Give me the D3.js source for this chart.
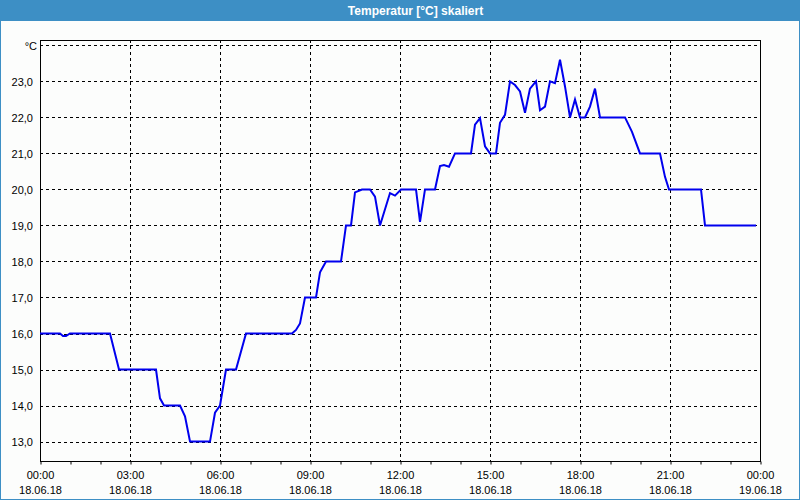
<!DOCTYPE html>
<html>
<head>
<meta charset="utf-8">
<script src="https://cdn.jsdelivr.net/npm/d3@7"></script>
<style>
  html, body { margin: 0; padding: 0; background: #fcfdfc; }
  svg { display: block; }
  text { font-family: "Liberation Sans", Arial, sans-serif; }
</style>
</head>
<body>
<svg id="chart" width="800" height="500"></svg>
<script>
// ---- data ----
const title = "Temperatur [°C] skaliert";
const times = ["00:00","00:40","00:46","00:52","01:00","02:20","02:38","03:52","04:00","04:08",
  "04:40","04:50","05:00","05:40","05:50","06:00","06:12","06:32","06:52","08:24",
  "08:32","08:40","08:50","09:12","09:20","09:32","10:02","10:12","10:22","10:30",
  "10:44","11:00","11:10","11:20","11:40","11:50","12:02","12:32","12:40","12:50",
  "13:10","13:20","13:28","13:38","13:50","14:22","14:30","14:40","14:50","15:00",
  "15:12","15:20","15:30","15:40","15:50","16:00","16:10","16:20","16:32","16:40",
  "16:50","17:00","17:10","17:20","17:30","17:40","17:50","18:00","18:10","18:20",
  "18:30","18:40","19:30","19:44","20:00","20:40","20:50","20:58","22:02","22:10","23:52"];
const temps = [16.0,16.0,15.93,15.93,16.0,16.0,15.0,15.0,14.2,14.0,
  14.0,13.7,13.0,13.0,13.8,14.0,15.0,15.0,16.0,16.0,
  16.1,16.28,17.0,17.0,17.7,18.0,18.0,19.0,19.0,19.92,
  20.0,20.0,19.8,19.0,19.9,19.83,20.0,20.0,19.1,20.0,
  20.0,20.65,20.68,20.63,21.0,21.0,21.8,21.98,21.2,21.0,
  21.0,21.85,22.07,23.0,22.9,22.72,22.13,22.8,23.0,22.2,
  22.3,23.0,22.95,23.6,22.86,22.0,22.5,22.0,22.0,22.3,
  22.8,22.0,22.0,21.6,21.0,21.0,20.35,20.0,20.0,19.0,19.0];
const yTicks = [13,14,15,16,17,18,19,20,21,22,23,24];
const yTopLabel = "°C";
const xTickHours = [0,3,6,9,12,15,18,21,24];
const xTickTimes = ["00:00","03:00","06:00","09:00","12:00","15:00","18:00","21:00","00:00"];
const xTickDates = ["18.06.18","18.06.18","18.06.18","18.06.18","18.06.18","18.06.18","18.06.18","18.06.18","19.06.18"];
const yDomain = [12.46, 24.15];

// ---- layout ----
const W = 800, H = 500;
const L = 40, R = 760, T = 40, B = 461;
const svg = d3.select("#chart");

const toHours = s => { const [h, m] = s.split(":").map(Number); return h + m / 60; };
const data = times.map((t, i) => ({ h: toHours(t), v: temps[i] }));

const x = d3.scaleLinear().domain([0, 24]).range([L, R]);
const y = d3.scaleLinear().domain(yDomain).range([B, T]);

// background
svg.append("rect").attr("x", 0).attr("y", 0).attr("width", W).attr("height", H).attr("fill", "#fcfdfc");
// outer frame
svg.append("rect").attr("x", 0.5).attr("y", 0.5).attr("width", W - 1).attr("height", H - 1)
  .attr("fill", "none").attr("stroke", "#3d8fc5").attr("stroke-width", 1);
// title bar
svg.append("rect").attr("x", 0).attr("y", 0).attr("width", W).attr("height", 21).attr("fill", "#3d8fc5");
svg.append("text").attr("x", 415.5).attr("y", 15).attr("text-anchor", "middle")
  .attr("fill", "#ffffff").attr("font-weight", "bold").attr("font-size", 12).text(title);

// grid horizontal
svg.append("g").selectAll("line").data(yTicks).join("line")
  .attr("x1", L).attr("x2", R)
  .attr("y1", d => Math.round(y(d)) + 0.5).attr("y2", d => Math.round(y(d)) + 0.5)
  .attr("stroke", "#000").attr("stroke-width", 1).attr("stroke-dasharray", "3,3");
// grid vertical
svg.append("g").selectAll("line").data(xTickHours.slice(1, -1)).join("line")
  .attr("x1", d => Math.round(x(d)) + 0.5).attr("x2", d => Math.round(x(d)) + 0.5)
  .attr("y1", T).attr("y2", B)
  .attr("stroke", "#000").attr("stroke-width", 1).attr("stroke-dasharray", "3,3");

// plot frame
svg.append("rect").attr("x", L + 0.5).attr("y", T + 0.5).attr("width", R - L).attr("height", B - T)
  .attr("fill", "none").attr("stroke", "#000").attr("stroke-width", 1);

// x axis minor ticks (hourly)
const xAxis = d3.axisBottom(x).tickValues(d3.range(0, 25, 1)).tickSize(3).tickFormat("");
const gx = svg.append("g").attr("transform", `translate(0.5,${B + 0.5})`).call(xAxis);
gx.select(".domain").remove();
gx.selectAll(".tick line").attr("stroke", "#000");

// x labels
const xl = svg.append("g");
xl.selectAll("text.t").data(xTickHours).join("text").attr("class", "t")
  .attr("x", d => x(d) + 0.5).attr("y", 479).attr("text-anchor", "middle")
  .attr("font-size", 11).attr("fill", "#000").text((d, i) => xTickTimes[i]);
xl.selectAll("text.d").data(xTickHours).join("text").attr("class", "d")
  .attr("x", d => x(d) + 0.5).attr("y", 494).attr("text-anchor", "middle")
  .attr("font-size", 11).attr("fill", "#000").text((d, i) => xTickDates[i]);

// y labels
const fmt = v => v.toFixed(1).replace(".", ",");
svg.append("g").selectAll("text").data(yTicks).join("text")
  .attr("x", d => d === yTicks[yTicks.length - 1] ? 37 : 33)
  .attr("y", d => y(d) + 4.5).attr("text-anchor", "end")
  .attr("font-size", 11).attr("fill", "#000")
  .text(d => d === yTicks[yTicks.length - 1] ? yTopLabel : fmt(d));

// line
const line = d3.line().x(d => x(d.h)).y(d => y(d.v));
svg.append("path").datum(data).attr("d", line)
  .attr("fill", "none").attr("stroke", "#0000ee").attr("stroke-width", 2)
  .attr("stroke-linejoin", "miter");
</script>
</body>
</html>
